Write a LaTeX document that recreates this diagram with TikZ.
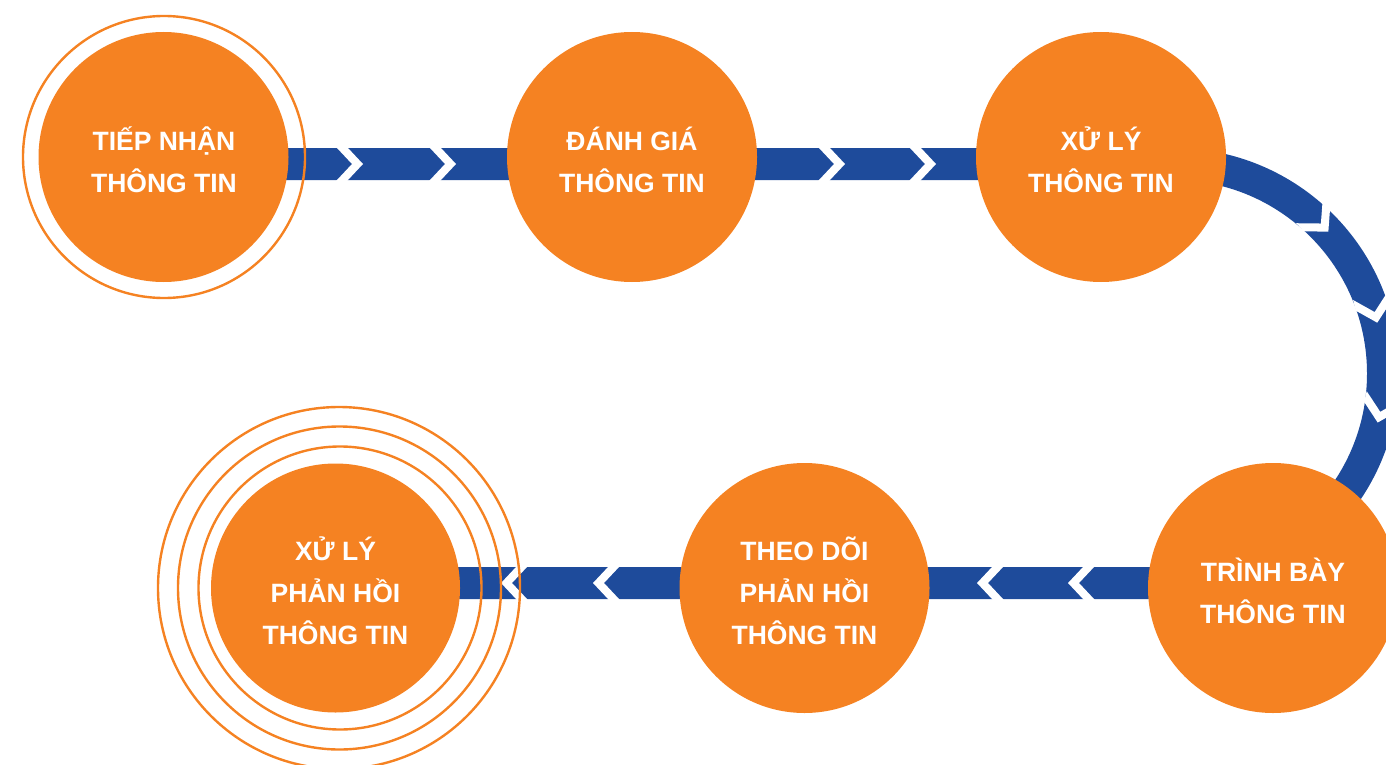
\documentclass[tikz,border=0pt]{standalone}
\usepackage{fontspec}
\setmainfont{Liberation Sans}
\definecolor{flowblue}{HTML}{1E4B9B}
\definecolor{steporange}{HTML}{F58222}
\tikzset{
  bar/.style={draw=flowblue, line width=32pt},
  stepcircle/.style={circle, fill=steporange, inner sep=0pt, minimum size=250pt},
  ringline/.style={circle, draw=steporange, line width=2.4pt, inner sep=0pt},
  steptext/.style={text=white, align=center, anchor=base, inner sep=0pt,
    font=\bfseries\fontsize{26.5}{42}\selectfont},
  chev/.pic={\fill[white] (-27.9,-18) -- (-11,0) -- (-27.9,18) -- (-16.9,18) -- (0,0) -- (-16.9,-18) -- cycle;}
}
\begin{document}
\begin{tikzpicture}[x=1pt,y=-1pt]
\useasboundingbox (0,0) rectangle (1386,765);
% connector path
\coordinate (bstart) at (163,164);
\coordinate (btopend) at (1173.5,164);
\coordinate (bbotend) at (1173.5,583);
\coordinate (bend) at (335,583);
\draw[bar] (bstart) -- (btopend) arc[start angle=-90, end angle=90, radius=209.5] -- (bend);
% chevrons on straight parts
\pic at (363,164) {chev};
\pic at (456,164) {chev};
\pic at (845,164) {chev};
\pic at (936,164) {chev};
\pic[rotate=180] at (977,583) {chev};
\pic[rotate=180] at (1068,583) {chev};
\pic[rotate=180] at (593,583) {chev};
\pic[rotate=180] at (501,583) {chev};
% chevrons on the arc
\foreach \a in {42.5,14,-13.5}{
  \pic[rotate=\a-90] at ({1173.5+210*cos(\a)},{373.5-210*sin(\a)}) {chev};
}
% circles
\node[stepcircle] (c1) at (163.5,157) {};
\node[stepcircle] (c2) at (632,157) {};
\node[stepcircle] (c3) at (1101,157) {};
\node[stepcircle] (c4) at (1273,588) {};
\node[stepcircle] (c5) at (804.5,588) {};
\node[stepcircle, minimum size=249pt] (c6) at (335.5,588) {};
% rings
\node[ringline, minimum size=282pt] (r1) at (164,157) {};
\node[ringline, minimum size=283pt] (r6a) at (340,588) {};
\node[ringline, minimum size=323pt] (r6b) at (339.5,588) {};
\node[ringline, minimum size=362pt] (r6c) at (339,588) {};
% texts (base anchor = baseline of the last line)
\node[steptext] (t1) at (164,192) {TIẾP NHẬN\\THÔNG TIN};
\node[steptext] (t2) at (632,192) {ĐÁNH GIÁ\\THÔNG TIN};
\node[steptext] (t3) at (1101,192) {XỬ LÝ\\THÔNG TIN};
\node[steptext] (t4) at (1273,623) {TRÌNH BÀY\\THÔNG TIN};
\node[steptext] (t5) at (804.5,644) {THEO DÕI\\PHẢN HỒI\\THÔNG TIN};
\node[steptext] (t6) at (335.5,644) {XỬ LÝ\\PHẢN HỒI\\THÔNG TIN};
\end{tikzpicture}
\end{document}
